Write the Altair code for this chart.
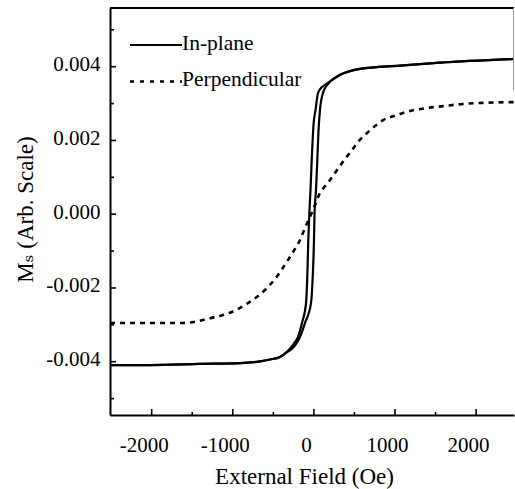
import altair as alt
import pandas as pd

# ---- data ----
ip_up_x = [-2514, -2021, -1404, -911, -665, -542, -418, -344, -270, -221, -171, -110, -36, -11, 1, 7, 26, 42, 57, 75, 112, 137, 174, 223, 322, 445, 568, 1062, 1554, 2467]
ip_up_y = [-0.00409, -0.00409, -0.00406, -0.00404, -0.00399, -0.00394, -0.00387, -0.00376, -0.00365, -0.00352, -0.00333, -0.00295, -0.00241, -0.00151, -0.00070, -0.00002, 0.00066, 0.00147, 0.00228, 0.00283, 0.00329, 0.00342, 0.00353, 0.00364, 0.00378, 0.00388, 0.00394, 0.00403, 0.00411, 0.00421]

ip_down_x = [-2514, -2021, -1404, -911, -665, -542, -418, -320, -250, -196, -147, -97, -79, -69, -57, -42, -27, -5, 20, 51, 100, 149, 223, 322, 445, 568, 1062, 1554, 2467]
ip_down_y = [-0.00409, -0.00409, -0.00406, -0.00404, -0.00399, -0.00394, -0.00387, -0.00370, -0.00352, -0.00333, -0.00295, -0.00241, -0.00151, -0.00070, -0.00002, 0.00066, 0.00147, 0.00242, 0.00283, 0.00329, 0.00345, 0.00353, 0.00364, 0.00378, 0.00388, 0.00394, 0.00403, 0.00411, 0.00421]

perp_x = [-2514, -2021, -1627, -1429, -1281, -1158, -1047, -936, -813, -689, -578, -480, -393, -319, -233, -171, -110, -48, 14, 75, 137, 199, 260, 347, 470, 544, 655, 754, 853, 1025, 1185, 1395, 1592, 1839, 2086, 2467]
perp_y = [-0.00295, -0.00295, -0.00295, -0.00290, -0.00282, -0.00276, -0.00268, -0.00257, -0.00241, -0.00222, -0.00200, -0.00176, -0.00149, -0.00124, -0.00094, -0.00070, -0.00037, -0.00007, 0.00025, 0.00058, 0.00076, 0.00093, 0.00112, 0.00139, 0.00174, 0.00196, 0.00220, 0.00239, 0.00255, 0.00269, 0.00280, 0.00288, 0.00293, 0.00299, 0.00302, 0.00304]

x_major = [-2000, -1000, 0, 1000, 2000]
x_minor = [-1500, -500, 500, 1500]
y_major = [-0.004, -0.002, 0.0, 0.002, 0.004]
y_minor = [-0.005, -0.003, -0.001, 0.001, 0.003, 0.005]

legend_labels = ["In-plane", "Perpendicular"]

X_DOMAIN = [-2514, 2467]
Y_DOMAIN = [-0.005445, 0.005592]
W, H = 404, 407
FONT = "Liberation Serif, Times New Roman, DejaVu Serif, serif"

df_ip = pd.DataFrame({
    "x": ip_up_x + ip_down_x,
    "y": ip_up_y + ip_down_y,
    "branch": ["up"] * len(ip_up_x) + ["down"] * len(ip_down_x),
})
df_pp = pd.DataFrame({"x": perp_x, "y": perp_y})

xs = alt.Scale(domain=X_DOMAIN, nice=False, zero=False)
ys = alt.Scale(domain=Y_DOMAIN, nice=False, zero=False)

x_axis = alt.Axis(
    values=x_major, ticks=False, tickSize=0, grid=False,
    domainColor="black", domainWidth=2,
    labelFont=FONT, labelFontSize=21, labelColor="black",
    labelBaseline="alphabetic", labelPadding=36, labelOffset=-8,
    labelExpr="datum.value < 0 ? '-' + format(-datum.value, 'd') : format(datum.value, 'd')",
    title="External Field (Oe)", titleFont=FONT, titleFontSize=23,
    titleFontWeight="normal", titleColor="black",
    titleX=194, titleY=68, titleBaseline="alphabetic", titleAlign="center",
)
y_axis = alt.Axis(
    values=y_major, ticks=False, tickSize=0, grid=False,
    domainColor="black", domainWidth=2,
    labelFont=FONT, labelFontSize=21, labelColor="black",
    labelBaseline="middle", labelAlign="right", labelPadding=10, labelOffset=-2,
    labelExpr="datum.value < 0 ? '-' + format(-datum.value, '.3f') : format(datum.value, '.3f')",
    title="Mₛ (Arb. Scale)", titleFont=FONT, titleFontSize=23,
    titleFontWeight="normal", titleColor="black",
    titleX=-85, titleY=201, titleAngle=270, titleBaseline="middle", titleAlign="center",
)

inplane = alt.Chart(df_ip).mark_line(color="black", strokeWidth=2.2, clip=True, interpolate="monotone").encode(
    x=alt.X("x:Q", scale=xs, axis=x_axis),
    y=alt.Y("y:Q", scale=ys, axis=y_axis),
    detail="branch:N",
)
perp = alt.Chart(df_pp).mark_line(color="black", strokeWidth=2.6, strokeDash=[5, 5], clip=True, interpolate="monotone").encode(
    x=alt.X("x:Q", scale=xs),
    y=alt.Y("y:Q", scale=ys),
)

xt_major = alt.Chart(pd.DataFrame({"t": x_major})).mark_rule(color="black", strokeWidth=1.6).encode(
    x=alt.X("t:Q", scale=xs), y=alt.value(H), y2=alt.value(H - 6))
xt_minor = alt.Chart(pd.DataFrame({"t": x_minor})).mark_rule(color="black", strokeWidth=1.6).encode(
    x=alt.X("t:Q", scale=xs), y=alt.value(H), y2=alt.value(H - 3))
yt_major = alt.Chart(pd.DataFrame({"t": y_major})).mark_rule(color="black", strokeWidth=1.6).encode(
    y=alt.Y("t:Q", scale=ys), x=alt.value(0), x2=alt.value(6))
yt_minor = alt.Chart(pd.DataFrame({"t": y_minor})).mark_rule(color="black", strokeWidth=1.6).encode(
    y=alt.Y("t:Q", scale=ys), x=alt.value(0), x2=alt.value(4))

top_border = alt.Chart(pd.DataFrame({"d": [0]})).mark_rule(color="black", strokeWidth=2).encode(
    x=alt.value(0), x2=alt.value(W), y=alt.value(0))
right_border = alt.Chart(pd.DataFrame({"d": [0]})).mark_rule(color="#9a9a9a", strokeWidth=1).encode(
    x=alt.value(W - 0.5), y=alt.value(0), y2=alt.value(82))

leg_solid = alt.Chart(pd.DataFrame({"d": [0]})).mark_rule(color="black", strokeWidth=2.2).encode(
    x=alt.value(20), x2=alt.value(72), y=alt.value(37))
leg_dash = alt.Chart(pd.DataFrame({"d": [0]})).mark_rule(color="black", strokeWidth=2.4, strokeDash=[4, 6]).encode(
    x=alt.value(20), x2=alt.value(72), y=alt.value(73.5))
leg_t1 = alt.Chart(pd.DataFrame({"d": [0]})).mark_text(
    text=legend_labels[0], font=FONT, fontSize=21.5, color="black", align="left", baseline="alphabetic").encode(
    x=alt.value(72), y=alt.value(41.5))
leg_t2 = alt.Chart(pd.DataFrame({"d": [0]})).mark_text(
    text=legend_labels[1], font=FONT, fontSize=21.5, color="black", align="left", baseline="alphabetic").encode(
    x=alt.value(72), y=alt.value(77.5))

chart = alt.layer(
    inplane, perp, xt_major, xt_minor, yt_major, yt_minor,
    top_border, right_border, leg_solid, leg_dash, leg_t1, leg_t2,
).properties(
    width=W, height=H,
    autosize=alt.AutoSizeParams(type="none"),
    padding={"left": 110, "top": 8, "right": 1, "bottom": 74},
    background="white",
).configure_view(stroke=None)

chart.save("out.html", embed_options={"renderer": "svg", "actions": False})
